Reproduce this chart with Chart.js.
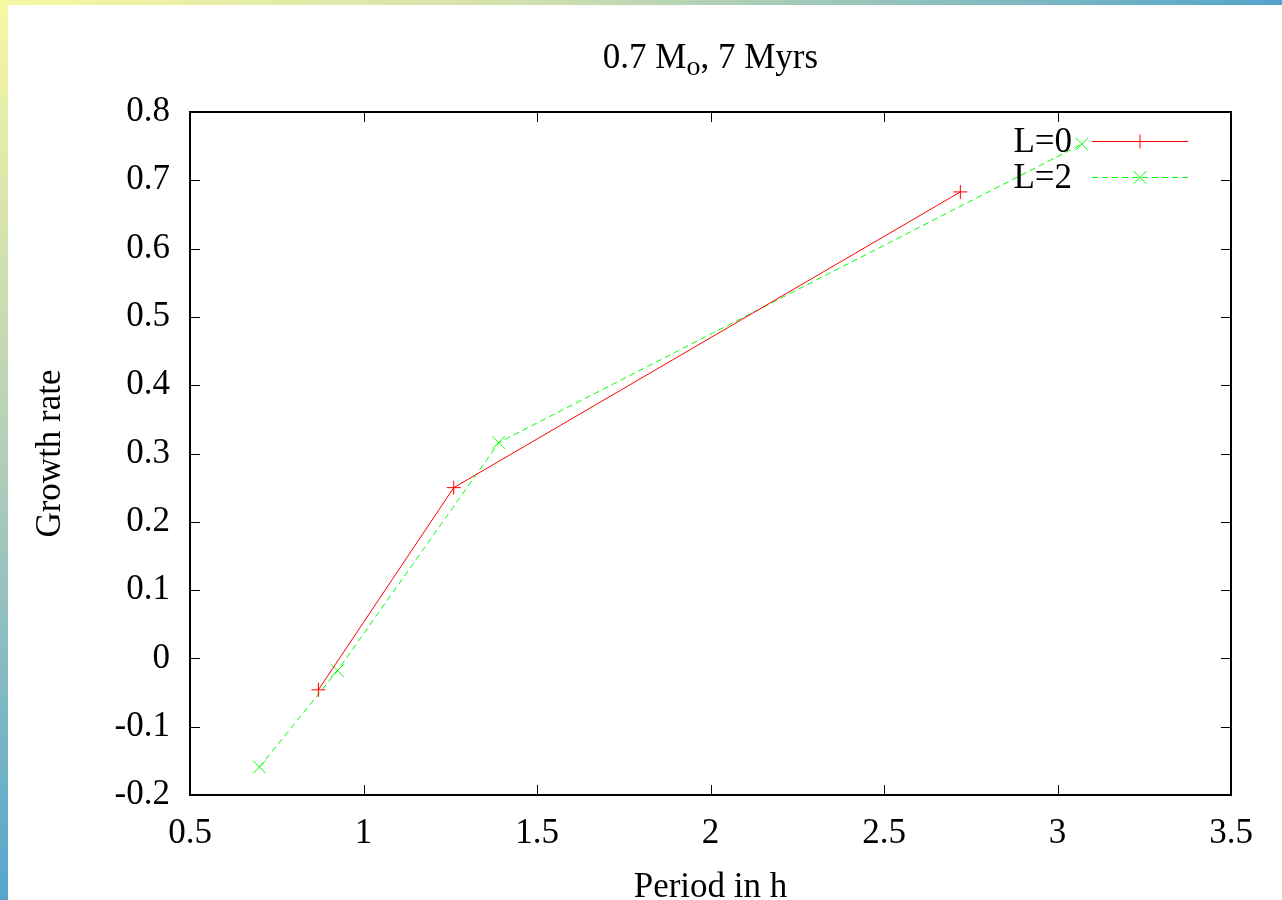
<!DOCTYPE html>
<html>
<head>
<meta charset="utf-8">
<title>Growth rate vs period</title>
<script src="https://cdn.jsdelivr.net/npm/chart.js@4.4.1/dist/chart.umd.min.js"></script>
<style>
  html, body { margin: 0; padding: 0; background: #fff; overflow: hidden; }
  #wrap { position: relative; width: 1282px; height: 900px; }
  #wrap canvas { position: absolute; left: 0; top: 0; }
  .edge { position: absolute; z-index: 2; }
  #edgeTop { left: 0; top: 0; width: 1282px; height: 5px; background: linear-gradient(to right, #f7f8a2, #d3e1ad 40%, #52a4cc); }
  #edgeLeft { left: 0; top: 0; width: 8px; height: 900px; background: linear-gradient(to bottom, #f7f8a2, #b4ceb8 50%, #55a6cd); }
</style>
</head>
<body>
<div id="wrap">
  <canvas id="growthChart" width="1282" height="900"></canvas>
  <div class="edge" id="edgeTop"></div>
  <div class="edge" id="edgeLeft"></div>
</div>
<script>
// values
const periodsL0 = [0.87, 1.26, 2.72]
const growthL0 = [-0.046, 0.250, 0.683]
const periodsL2 = [0.70, 0.925, 1.39, 3.07]
const growthL2 = [-0.159, -0.018, 0.316, 0.753]

const xTicks = [0.5, 1, 1.5, 2, 2.5, 3, 3.5]
const yTicks = [-0.2, -0.1, 0, 0.1, 0.2, 0.3, 0.4, 0.5, 0.6, 0.7, 0.8]

const FONT = '"Liberation Serif", "Times New Roman", serif'
const FS = 35

const toPoints = (xs, ys) => xs.map((x, i) => ({ x: x, y: ys[i] }))

// gnuplot style frame, inward ticks on all four sides, title, axis titles, key
const gnuplotLook = {
  id: 'gnuplotLook',
  afterDraw(chart) {
    const ctx = chart.ctx
    const area = chart.chartArea
    const xs = chart.scales.x
    const ys = chart.scales.y
    const tick = 10

    ctx.save()
    ctx.strokeStyle = '#000'
    ctx.lineWidth = 1
    ctx.beginPath()
    xTicks.forEach(v => {
      const px = Math.round(xs.getPixelForValue(v)) + 0.5
      ctx.moveTo(px, area.bottom); ctx.lineTo(px, area.bottom - tick)
      ctx.moveTo(px, area.top); ctx.lineTo(px, area.top + tick)
    })
    yTicks.forEach(v => {
      const py = Math.round(ys.getPixelForValue(v)) + 0.5
      ctx.moveTo(area.left, py); ctx.lineTo(area.left + tick, py)
      ctx.moveTo(area.right, py); ctx.lineTo(area.right - tick, py)
    })
    ctx.stroke()

    ctx.lineWidth = 2
    ctx.strokeRect(area.left, area.top, area.right - area.left, area.bottom - area.top)

    // title with subscript
    ctx.fillStyle = '#000'
    ctx.textBaseline = 'alphabetic'
    ctx.textAlign = 'left'
    const big = FS + 'px ' + FONT
    const small = Math.round(FS * 0.8) + 'px ' + FONT
    const partA = '0.7 M'
    const partB = 'o'
    const partC = ', 7 Myrs'
    ctx.font = big
    const wA = ctx.measureText(partA).width
    const wC = ctx.measureText(partC).width
    ctx.font = small
    const wB = ctx.measureText(partB).width
    const cx = (area.left + area.right) / 2
    let tx = cx - (wA + wB + wC) / 2
    const base = 68
    ctx.font = big
    ctx.fillText(partA, tx, base)
    tx += wA
    ctx.font = small
    ctx.fillText(partB, tx, base + 7)
    tx += wB
    ctx.font = big
    ctx.fillText(partC, tx, base)

    // axis titles
    ctx.textAlign = 'center'
    ctx.fillText('Period in h', cx, 897)
    ctx.save()
    ctx.translate(60, (area.top + area.bottom) / 2)
    ctx.rotate(-Math.PI / 2)
    ctx.fillText('Growth rate', 0, 0)
    ctx.restore()

    // key
    const rows = [141, 177]
    chart.data.datasets.forEach((ds, i) => {
      const y = rows[i]
      ctx.font = big
      ctx.textAlign = 'right'
      ctx.textBaseline = 'middle'
      ctx.fillStyle = '#000'
      ctx.fillText(ds.label, 1072, y + 2)
      ctx.strokeStyle = ds.borderColor
      ctx.lineWidth = ds.borderWidth
      ctx.setLineDash(ds.borderDash || [])
      ctx.beginPath()
      ctx.moveTo(1092, y + 0.5)
      ctx.lineTo(1188, y + 0.5)
      ctx.stroke()
      ctx.setLineDash([])
      Chart.helpers.drawPoint(ctx, {
        pointStyle: ds.pointStyle,
        radius: ds.pointRadius,
        rotation: 0,
        borderWidth: 1
      }, 1140, y + 0.5)
    })
    ctx.restore()
  }
}

new Chart(document.getElementById('growthChart'), {
  type: 'scatter',
  data: {
    datasets: [
      {
        label: 'L=0',
        data: toPoints(periodsL0, growthL0),
        showLine: true,
        borderColor: '#ff0000',
        backgroundColor: '#ff0000',
        borderWidth: 1,
        pointStyle: 'cross',
        pointRadius: 7,
        pointBorderWidth: 1
      },
      {
        label: 'L=2',
        data: toPoints(periodsL2, growthL2),
        showLine: true,
        borderColor: '#00ff00',
        backgroundColor: '#00ff00',
        borderWidth: 1,
        borderDash: [6, 4],
        pointStyle: 'crossRot',
        pointRadius: 9,
        pointBorderWidth: 1
      }
    ]
  },
  options: {
    responsive: false,
    animation: false,
    devicePixelRatio: 1,
    layout: { padding: { left: 0, top: 112, right: 51, bottom: 0 } },
    plugins: {
      legend: { display: false },
      tooltip: { enabled: false }
    },
    scales: {
      x: {
        type: 'linear',
        min: 0.5,
        max: 3.5,
        afterBuildTicks: scale => { scale.ticks = xTicks.map(v => ({ value: v })) },
        afterFit: scale => { scale.height = 105 },
        grid: { display: false, drawTicks: false },
        border: { display: false },
        ticks: {
          color: '#000',
          font: { family: FONT, size: FS },
          padding: 18,
          maxRotation: 0,
          callback: v => String(v)
        }
      },
      y: {
        min: -0.2,
        max: 0.8,
        afterBuildTicks: scale => { scale.ticks = yTicks.map(v => ({ value: v })) },
        afterFit: scale => { scale.width = 190 },
        grid: { display: false, drawTicks: false },
        border: { display: false },
        ticks: {
          color: '#000',
          font: { family: FONT, size: FS },
          padding: 20,
          callback: v => String(Math.round(v * 10) / 10)
        }
      }
    }
  },
  plugins: [gnuplotLook]
})
</script>
</body>
</html>
